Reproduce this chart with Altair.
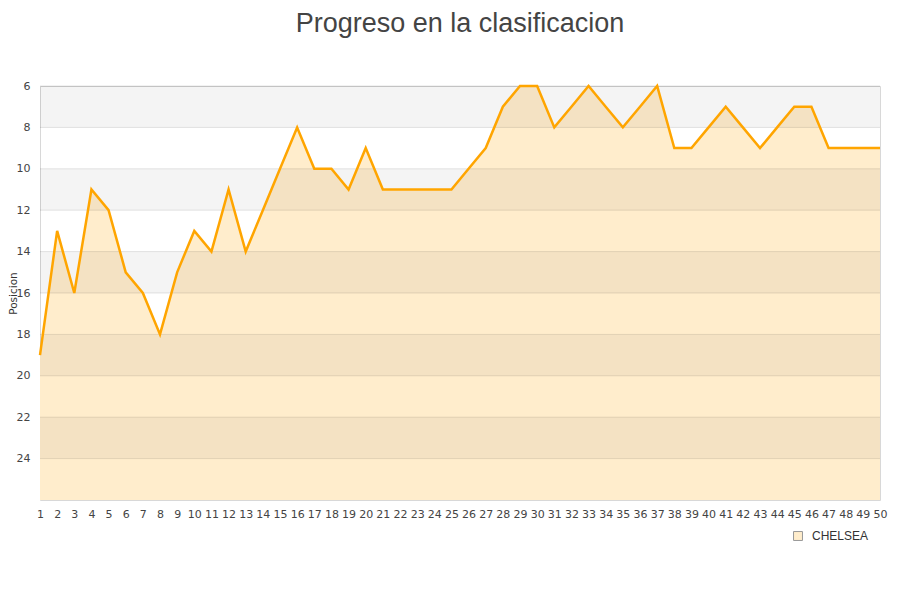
import altair as alt
import pandas as pd

# jornada (matchday) and league position for Chelsea
jornadas = list(range(1, 51))
posiciones = [19, 13, 16, 11, 12, 15, 16, 18, 15, 13,
              14, 11, 14, 12, 10, 8, 10, 10, 11, 9,
              11, 11, 11, 11, 11, 10, 9, 7, 6, 6,
              8, 7, 6, 7, 8, 7, 6, 9, 9, 8,
              7, 8, 9, 8, 7, 7, 9, 9, 9, 9]
equipo = 'CHELSEA'

y_ticks = list(range(6, 26, 2))
band_from = [6, 10, 14, 18, 22]
band_to = [8, 12, 16, 20, 24]
y_domain = [6, 26]

df = pd.DataFrame({'Jornada': jornadas, 'Posicion': posiciones, 'Equipo': equipo})
bands = pd.DataFrame({'y1': band_from, 'y2': band_to})
grid = pd.DataFrame({'y': y_ticks})

x_scale = alt.Scale(domain=[1, 50], nice=False)
x_axis = alt.Axis(values=jornadas, title=None, grid=False, domain=False,
                  ticks=False, labelAngle=0, labelOverlap=False,
                  labelPadding=8, labelFontSize=11, labelColor='#444',
                  labelFont='DejaVu Sans', labelFlush=False)
x_enc = alt.X('Jornada:Q', scale=x_scale, axis=x_axis)

y_scale = alt.Scale(domain=y_domain, reverse=True, nice=False, zero=False)
y_axis = alt.Axis(values=y_ticks, title='Posicion', grid=False, domain=False,
                  ticks=False, labelPadding=10, labelFontSize=11,
                  labelColor='#444', labelFont='DejaVu Sans',
                  titleFont='DejaVu Sans', titleFontSize=10.5,
                  titleFontWeight='normal', titleColor='#333', titlePadding=-2)

area = alt.Chart(df).mark_area(opacity=1, interpolate='linear').encode(
    x=x_enc,
    y=alt.Y('Posicion:Q', scale=y_scale, axis=y_axis),
    y2='base:Q',
    color=alt.Color('Equipo:N', scale=alt.Scale(range=['#FFEDCC']),
                    legend=alt.Legend(title=None, orient='none', legendX=752, legendY=444,
                                      symbolType='square', symbolSize=80,
                                      symbolStrokeColor='#999', symbolStrokeWidth=1,
                                      labelFont='Liberation Sans', labelFontSize=12,
                                      labelColor='#333', labelOffset=8)),
).transform_calculate(base='26')

band_layer = alt.Chart(bands).mark_rect(color='black', opacity=0.045).encode(
    y=alt.Y('y1:Q', scale=y_scale, axis=y_axis),
    y2='y2:Q',
)

grid_layer = alt.Chart(grid).mark_rule(color='black', opacity=0.1, strokeWidth=1).encode(
    y=alt.Y('y:Q', scale=y_scale, axis=y_axis),
)

line = alt.Chart(df).mark_line(color='#FFA500', strokeWidth=2.5).encode(
    x=x_enc,
    y=alt.Y('Posicion:Q', scale=y_scale, axis=y_axis),
)

chart = alt.layer(area, band_layer, grid_layer, line).properties(
    width=840,
    height=414,
    title=alt.TitleParams('Progreso en la clasificacion', font='Liberation Sans',
                          fontSize=27, fontWeight='normal', color='#444',
                          anchor='middle', offset=42),
    autosize=alt.AutoSizeParams(type='none'),
    padding={'left': 32, 'top': 78, 'right': 12, 'bottom': 80},
).configure_view(stroke='#d8d8d8', strokeWidth=1)

chart.save("out.html", embed_options={"renderer": "svg", "actions": False})
